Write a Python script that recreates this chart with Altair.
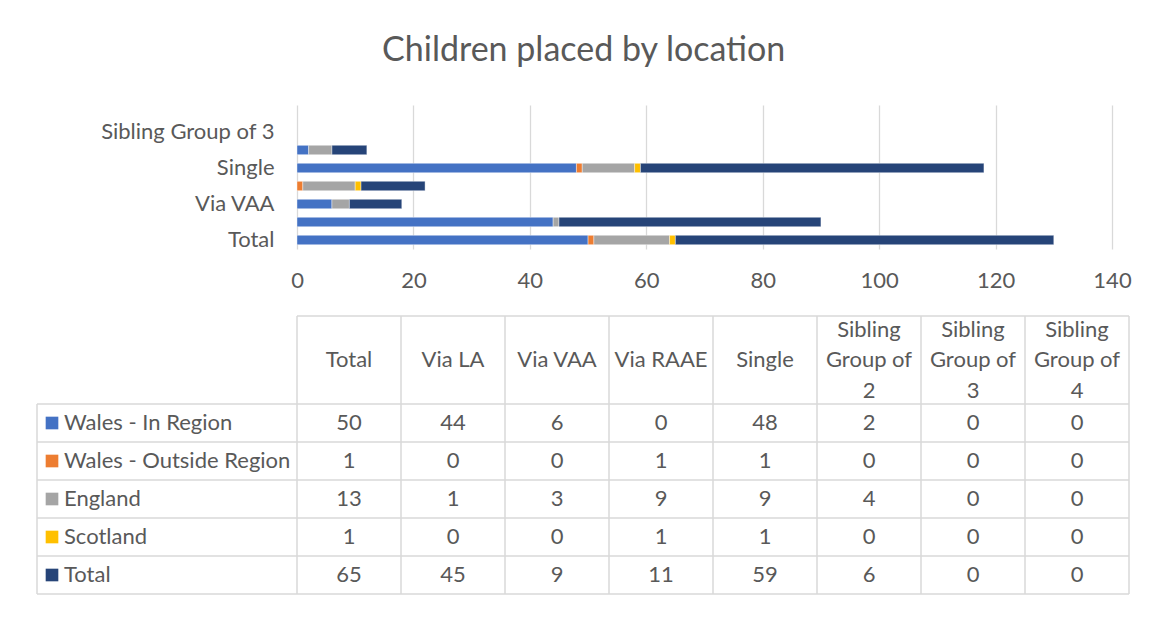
import altair as alt
import pandas as pd

categories = ["Total", "Via LA", "Via VAA", "Via RAAE", "Single",
              "Sibling Group of 2", "Sibling Group of 3", "Sibling Group of 4"]
header_lines = [["Total"], ["Via LA"], ["Via VAA"], ["Via RAAE"], ["Single"],
                ["Sibling", "Group of", "2"], ["Sibling", "Group of", "3"], ["Sibling", "Group of", "4"]]
series = ["Wales - In Region", "Wales - Outside Region", "England", "Scotland", "Total"]
colors = ["#4472C4", "#ED7D31", "#A5A5A5", "#FFC000", "#264478"]
wales_in = [50, 44, 6, 0, 48, 2, 0, 0]
wales_out = [1, 0, 0, 1, 1, 0, 0, 0]
england = [13, 1, 3, 9, 9, 4, 0, 0]
scotland = [1, 0, 0, 1, 1, 0, 0, 0]
total = [65, 45, 9, 11, 59, 6, 0, 0]
x_ticks = [0, 20, 40, 60, 80, 100, 120, 140]
shown_y_labels = ["Total", "Via VAA", "Single", "Sibling Group of 3"]

FONT = "Lato"
TXT = "#595959"
GRID = "#d9d9d9"
FS = 22

values_by_series = [wales_in, wales_out, england, scotland, total]

# ---------- bar chart ----------
bar_rows = []
for si, (s, vals) in enumerate(zip(series, values_by_series)):
    for c, v in zip(categories, vals):
        if v > 0:
            bar_rows.append({"category": c, "series": s, "sidx": si, "value": v})
bar_df = pd.DataFrame(bar_rows)

bars = alt.Chart(bar_df).mark_bar(stroke="white", strokeWidth=0.4).encode(
    y=alt.Y("category:N", sort=list(reversed(categories)),
            scale=alt.Scale(domain=list(reversed(categories)), paddingInner=0.48, paddingOuter=0.24),
            axis=alt.Axis(title=None, values=shown_y_labels, ticks=False, domain=False, grid=False,
                          labelFontSize=FS, labelColor=TXT, labelFont=FONT, labelPadding=23)),
    x=alt.X("value:Q", stack="zero", scale=alt.Scale(domain=[0, 140], nice=False),
            axis=alt.Axis(title=None, values=x_ticks, grid=True, gridColor=GRID, gridWidth=1.3,
                          domain=False, ticks=False, labelFontSize=FS, labelColor=TXT,
                          labelFont=FONT, labelPadding=21, labelFlush=False)),
    color=alt.Color("series:N", scale=alt.Scale(domain=series, range=colors), legend=None),
    order=alt.Order("sidx:Q"),
).properties(width=815, height=144)

# ---------- data table ----------
ncol = len(categories)
nrow = len(series)
LEG = 2.5          # legend column width in column units (drawn left of the table origin)
H = 88 / 38        # header height in row units
LH = 30.5 / 38     # header line height in row units

line_rows = []
line_rows.append({"x": 0, "x2": ncol, "y": 0, "y2": 0})
for r in range(nrow + 1):
    line_rows.append({"x": -LEG, "x2": ncol, "y": H + r, "y2": H + r})
line_rows.append({"x": -LEG, "x2": -LEG, "y": H, "y2": H + nrow})
for i in range(ncol + 1):
    line_rows.append({"x": i, "x2": i, "y": 0, "y2": H + nrow})
lines_df = pd.DataFrame(line_rows)

head_rows = []
for i, parts in enumerate(header_lines):
    n = len(parts)
    for k, p in enumerate(parts):
        head_rows.append({"x": i + 0.5, "y": H / 2 + (k - (n - 1) / 2) * LH, "t": p})
head_df = pd.DataFrame(head_rows)

cell_rows = []
for r, vals in enumerate(values_by_series):
    for i, v in enumerate(vals):
        cell_rows.append({"x": i + 0.5, "y": H + r + 0.5, "t": str(v)})
cell_df = pd.DataFrame(cell_rows)

leg_df = pd.DataFrame({
    "series": series,
    "xs": [-LEG + 15 / 104] * nrow,
    "xt": [-LEG + 27 / 104] * nrow,
    "y": [H + r + 0.5 for r in range(nrow)],
})

xs = alt.Scale(domain=[0, ncol], nice=False, zero=False)
ys = alt.Scale(domain=[0, H + nrow], nice=False, zero=False, reverse=True)

rules = alt.Chart(lines_df).mark_rule(color=GRID, strokeWidth=1.5).encode(
    x=alt.X("x:Q", scale=xs, axis=None), x2="x2:Q",
    y=alt.Y("y:Q", scale=ys, axis=None), y2="y2:Q")

heads = alt.Chart(head_df).mark_text(font=FONT, fontSize=FS, color=TXT,
                                     baseline="middle", align="center").encode(
    x=alt.X("x:Q", scale=xs, axis=None), y=alt.Y("y:Q", scale=ys, axis=None), text="t:N")

cells = alt.Chart(cell_df).mark_text(font=FONT, fontSize=FS, color=TXT,
                                     baseline="middle", align="center").encode(
    x=alt.X("x:Q", scale=xs, axis=None), y=alt.Y("y:Q", scale=ys, axis=None), text="t:N")

swatches = alt.Chart(leg_df).mark_square(size=160, opacity=1).encode(
    x=alt.X("xs:Q", scale=xs, axis=None), y=alt.Y("y:Q", scale=ys, axis=None),
    color=alt.Color("series:N", scale=alt.Scale(domain=series, range=colors), legend=None))

leg_text = alt.Chart(leg_df).mark_text(font=FONT, fontSize=FS, color=TXT,
                                       baseline="middle", align="left").encode(
    x=alt.X("xt:Q", scale=xs, axis=None), y=alt.Y("y:Q", scale=ys, axis=None), text="series:N")

table = alt.layer(rules, heads, cells, swatches, leg_text).properties(width=832, height=278)

chart = alt.vconcat(bars, table, spacing=24).properties(
    title=alt.TitleParams("Children placed by location", fontSize=34, font=FONT,
                          fontWeight="normal", color=TXT, anchor="middle", offset=37),
    padding={"left": 28, "top": 26, "right": 5, "bottom": 5},
).configure_view(stroke=None).resolve_scale(color="independent")

chart.save("out.html", embed_options={"renderer": "svg", "actions": False})
